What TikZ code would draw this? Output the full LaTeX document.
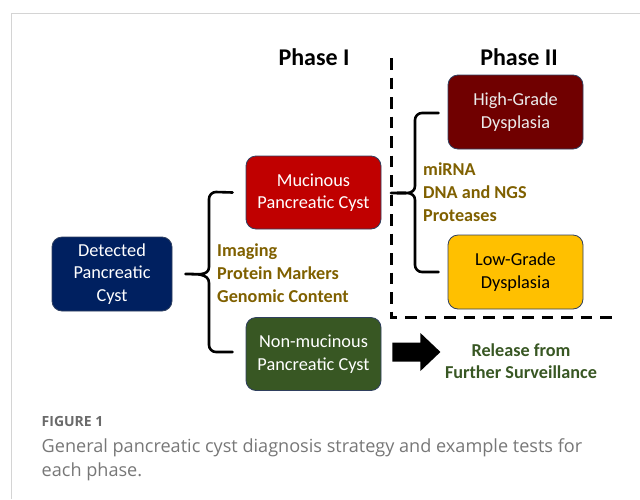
\documentclass[tikz,border=0pt]{standalone}
\usepackage{fontspec}
\setmainfont{Carlito}
\newfontfamily\capfont{Open Sans}
\usetikzlibrary{calc}
\definecolor{navy}{HTML}{002060}
\definecolor{mucred}{HTML}{C00000}
\definecolor{nongreen}{HTML}{385723}
\definecolor{hgred}{HTML}{700000}
\definecolor{lggold}{HTML}{FFC000}
\definecolor{testbrown}{HTML}{7F6000}
\definecolor{boxline}{HTML}{2F3F5F}
\definecolor{capgrey}{HTML}{777777}
\definecolor{figgrey}{HTML}{6A6A6A}
\definecolor{framegrey}{HTML}{D4D4D4}
\begin{document}
\begin{tikzpicture}[x=1pt,y=-1pt,
  cystbox/.style={draw=boxline, line width=0.8pt, rounded corners=10pt, minimum width=135pt, minimum height=73pt, align=center, font=\fontsize{18.3}{22.5}\selectfont, inner sep=0pt},
  testlist/.style={text=testbrown, align=left, anchor=west, font=\fontsize{18.2}{22.8}\selectfont\bfseries, inner sep=0pt},
  phase/.style={font=\fontsize{24}{28}\selectfont\bfseries, inner sep=0pt},
  bracepath/.style={line width=2.6pt, line cap=round, line join=round},
  divider/.style={line width=3pt, dash pattern=on 11.5pt off 8pt}
]
\useasboundingbox (0,0) rectangle (640,499);
% frame
\draw[framegrey, line width=1.2pt] (11.5,499) -- (11.5,13.5) -- (640,13.5);

% phase titles
\node[phase] (ph1) at (314,57) {Phase I};
\node[phase] (ph2) at (519,57) {Phase II};

% dividers
\coordinate (dtop) at (391,58);
\coordinate (dcorner) at (391,317);
\coordinate (dright) at (615,317);
\draw[divider] (dtop) -- (dcorner) -- (dright);

% boxes
\node[cystbox, fill=navy, text=white, minimum width=120pt, minimum height=74pt] (det) at (112,274) {Detected\\Pancreatic\\Cyst};
\node[cystbox, fill=mucred, text=white] (muc) at (313.5,192.5) {Mucinous\\Pancreatic Cyst};
\node[cystbox, fill=nongreen, text=white] (non) at (313.5,354) {Non-mucinous\\Pancreatic Cyst};
\node[cystbox, fill=hgred, text=white!92!black, minimum height=74pt] (hg) at (515.5,112) {High-Grade\\Dysplasia};
\node[cystbox, fill=lggold, text=black, minimum height=74pt] (lg) at (515.5,272) {Low-Grade\\Dysplasia};

% brace 1
\coordinate (b1tip) at ($(det.east)+(13,0)$);
\coordinate (b1top) at ($(muc.west)+(-13,0)$);
\coordinate (b1bot) at ($(non.west)+(-13,-2)$);
\draw[bracepath] (b1top) -- (216,192) to[out=180,in=90] (209,199) -- (209,267)
  to[out=-90,in=0] (b1tip) to[out=0,in=90] (209,283) -- (209,345) to[out=-90,in=180] (216,352) -- (b1bot);
\node[testlist] (t1) at (217,273) {Imaging\\Protein Markers\\Genomic Content};

% brace 2
\coordinate (b2tip) at (391,193);
\coordinate (b2top) at ($(hg.west)+(-9,1)$);
\coordinate (b2bot) at ($(lg.west)+(-9,0)$);
\draw[bracepath] (b2top) -- (422,113) to[out=180,in=90] (415,120) -- (415,186)
  to[out=-90,in=0] (b2tip) to[out=0,in=90] (415,200) -- (415,265) to[out=-90,in=180] (422,272) -- (b2bot);
\node[testlist] (t2) at (423,192) {miRNA\\DNA and NGS\\Proteases};

% block arrow
\coordinate (arrtail) at ($(non.east)+(11,-2)$);
\fill (arrtail) ++(0,-9.5) -- ++(28,0) -- ++(0,-9.5) -- ++(20,19) -- ++(-20,19) -- ++(0,-9.5) -- ++(-28,0) -- cycle;
\node[text=nongreen, align=center, font=\fontsize{18.2}{22}\selectfont\bfseries, inner sep=0pt] (rel) at (521,361) {Release from\\Further Surveillance};

% caption
\node[anchor=west, text=figgrey, font=\capfont\fontsize{14}{16}\selectfont\bfseries, inner sep=0pt] (fig) at (41.5,421.5) {FIGURE 1};
\node[anchor=north west, text=capgrey, align=left, font=\capfont\fontsize{18.1}{24}\selectfont, inner sep=0pt] (cap) at (41.5,438.5) {General pancreatic cyst diagnosis strategy and example tests for\\each phase.};
\end{tikzpicture}
\end{document}
